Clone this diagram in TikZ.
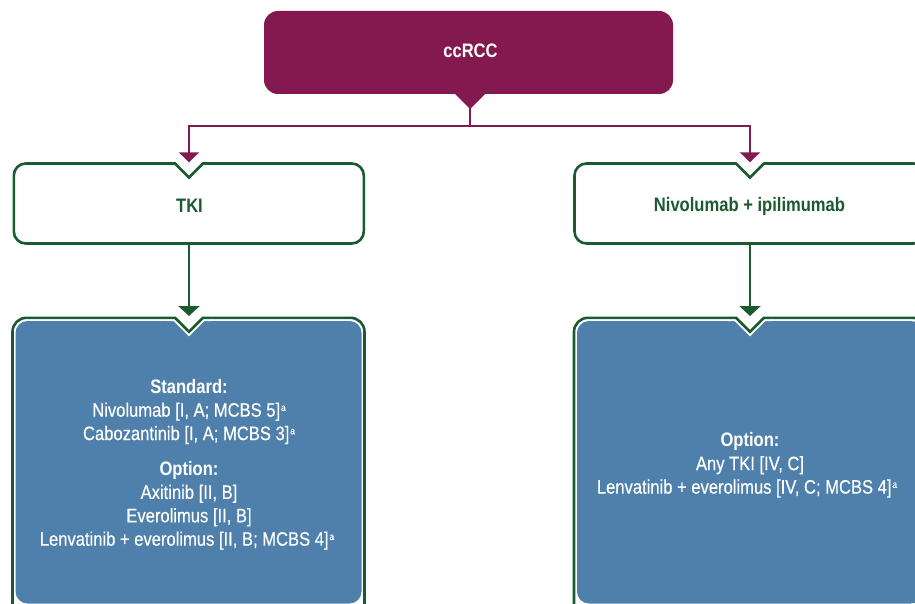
\documentclass[tikz,border=0pt]{standalone}
\usepackage{fontspec}
\setmainfont{Liberation Sans}[FakeStretch=0.85]
\newfontfamily\medfont{Liberation Sans}[FakeStretch=0.85,FakeBold=0.35]
\usetikzlibrary{arrows.meta}
\definecolor{cpurple}{HTML}{83194F}
\definecolor{cgreen}{HTML}{1B5A30}
\definecolor{cblue}{HTML}{4E80AB}
\newcommand\supa{\kern0.8pt\raisebox{5.8pt}{\fontsize{10}{10}\selectfont a}}
% notch on a white box: x0, y0 (border line)
\newcommand\wnotch[2]{%
  \fill[white] ({#1-22},{#2-2}) rectangle ({#1+22},{#2+17});
  \draw[cgreen,line width=2.6pt,line join=miter]
    ({#1-22},#2) -- ({#1-14},#2) -- (#1,{#2+14}) -- ({#1+14},#2) -- ({#1+22},#2);
}
% notch on a blue box: x0, y0 (frame line), yb (blue top)
\newcommand\bnotch[3]{%
  \fill[white] ({#1-22},{#2-2}) -- ({#1+22},{#2-2}) -- ({#1+22},#3) -- ({#1+15.33},#3)
     -- (#1,{#2+18.53}) -- ({#1-15.33},#3) -- ({#1-22},#3) -- cycle;
  \draw[cgreen,line width=2.6pt,line join=miter]
    ({#1-22},#2) -- ({#1-14},#2) -- (#1,{#2+14}) -- ({#1+14},#2) -- ({#1+22},#2);
}
\begin{document}
\begin{tikzpicture}[x=1pt,y=-1pt,
  txt/.style={font=\fontsize{19.5}{23}\selectfont, inner sep=0pt, anchor=base},
  wtxt/.style={txt, text=white, font=\fontsize{19.5}{23}\selectfont\medfont},
  hdr/.style={txt, text=white, font=\fontsize{19.5}{23}\selectfont\bfseries},
  gtxt/.style={txt, text=cgreen, font=\fontsize{19.5}{23}\selectfont\bfseries},
  topbox/.style={rectangle, rounded corners=14pt, fill=cpurple, minimum width=409pt, minimum height=83pt, inner sep=0pt},
  gbox/.style={rectangle, rounded corners=12pt, draw=cgreen, line width=2.6pt, fill=white, minimum width=350pt, minimum height=80pt, inner sep=0pt},
  framebox/.style={rectangle, rounded corners=14pt, draw=cgreen, line width=2.6pt, fill=white, minimum width=352pt, minimum height=322pt, inner sep=0pt},
  bluebox/.style={rectangle, rounded corners=12pt, fill=cblue, minimum width=346pt, minimum height=282.5pt, inner sep=0pt},
  pline/.style={draw=cpurple, line width=2.3pt},
  parrow/.style={pline, -{Triangle[width=20pt,length=10pt]}},
  garrow/.style={draw=cgreen, line width=2.6pt, -{Triangle[width=21pt,length=10pt]}}
]
\useasboundingbox (0,0) rectangle (915,604);
\clip (0,0) rectangle (915,604);

% top box
\node[topbox] (ccrcc) at (468.5,52.5) {};
\fill[cpurple] (454,93) -- (470,109) -- (486,93) -- cycle;
\coordinate (tip) at (470,108);
\coordinate (jn) at (470,126);

% second row
\node[gbox] (tki) at (188.8,203.5) {};
\node[gbox, minimum width=351pt] (nivo) at (750,203.5) {};
\wnotch{189}{163.5}
\wnotch{750}{163.5}

% third row
\node[framebox] (stdframe) at (188.5,478.8) {};
\node[bluebox] (std) at (188.5,462.25) {};
\node[framebox] (optframe) at (750,478.8) {};
\node[bluebox] (opt) at (750,462.25) {};
\bnotch{189}{317.8}{321}
\bnotch{750}{317.8}{321}

% connectors
\coordinate (tkiIn) at (189,162.3);
\coordinate (nivIn) at (750,162.3);
\coordinate (stdIn) at (189,316);
\coordinate (optIn) at (750,316);
\draw[pline] (tip) -- (jn);
\draw[parrow] (jn) -| (tkiIn);
\draw[parrow] (jn) -| (nivIn);
\draw[garrow] (tki.south -| stdIn) -- (stdIn);
\draw[garrow] (nivo.south -| optIn) -- (optIn);

% texts
\node[hdr] (ccrcclbl) at (470.5,57.3) {ccRCC};
\node[gtxt] (tkilbl) at (189.5,212.7) {TKI};
\node[gtxt] (nivolbl) at (749.5,211.3) {Nivolumab + ipilimumab};

\node[hdr] (s1) at (189,393.3) {Standard:};
\node[wtxt] (s2) at (189,416.7) {Nivolumab [I, A; MCBS 5]\supa};
\node[wtxt] (s3) at (189,440.1) {Cabozantinib [I, A; MCBS 3]\supa};
\node[hdr] (s4) at (189,475.5) {Option:};
\node[wtxt] (s5) at (189,498.9) {Axitinib [II, B]};
\node[wtxt] (s6) at (189,522.3) {Everolimus [II, B]};
\node[wtxt] (s7) at (187,545.7) {Lenvatinib + everolimus [II, B; MCBS 4]\supa};

\node[hdr] (r1) at (750,446.8) {Option:};
\node[wtxt] (r2) at (750,470.2) {Any TKI [IV, C]};
\node[wtxt] (r3) at (747,493.6) {Lenvatinib + everolimus [IV, C; MCBS 4]\supa};
\end{tikzpicture}
\end{document}
